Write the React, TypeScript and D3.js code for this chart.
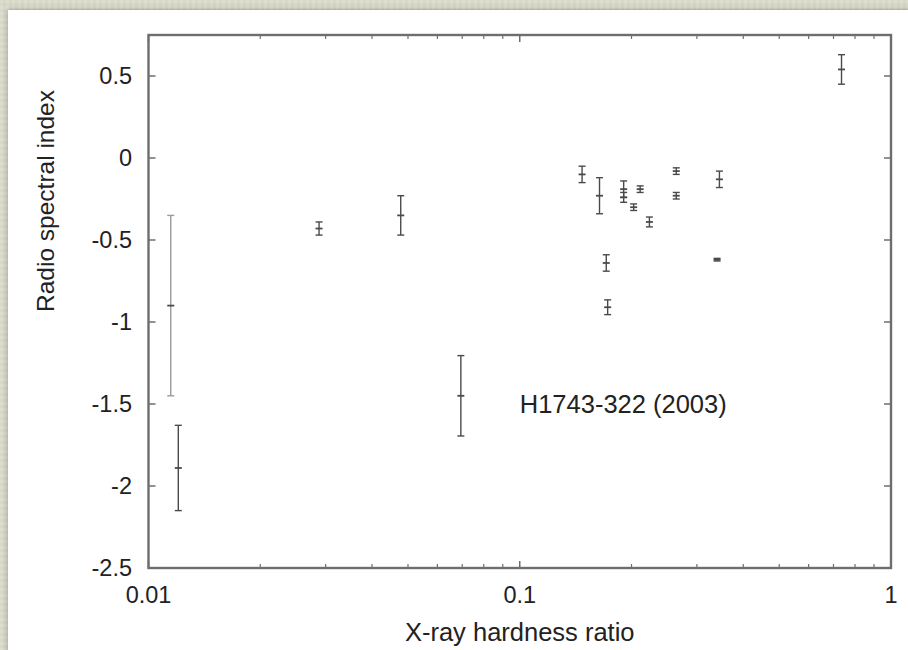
import React from "react";
import * as d3 from "d3";

// X-ray hardness ratio (x), radio spectral index (y) and its symmetric error
const hardness = [0.01148, 0.01203, 0.0288, 0.0478, 0.0694, 0.1472, 0.164, 0.1905, 0.1905, 0.2027, 0.211, 0.2235, 0.264, 0.264, 0.171, 0.1725, 0.345, 0.34, 0.7357];
const spectralIndex = [-0.9, -1.89, -0.43, -0.35, -1.45, -0.1, -0.23, -0.19, -0.24, -0.3, -0.19, -0.39, -0.08, -0.23, -0.64, -0.91, -0.13, -0.62, 0.54];
const indexError = [0.55, 0.26, 0.04, 0.12, 0.245, 0.05, 0.11, 0.05, 0.03, 0.02, 0.02, 0.03, 0.02, 0.02, 0.05, 0.045, 0.05, 0.008, 0.09];

const xMajorTicks = [0.01, 0.1, 1];
const xTickLabels = ["0.01", "0.1", "1"];
const yTicks = [0.5, 0, -0.5, -1, -1.5, -2, -2.5];
const yTickLabels = ["0.5", "0", "-0.5", "-1", "-1.5", "-2", "-2.5"];

const W = 908;
const H = 650;
const left = 148.5;
const right = 891;
const top = 35;
const bottom = 568;

export default function App() {
  const x = d3.scaleLog().domain([0.01, 1]).range([left, right]);
  const y = d3.scaleLinear().domain([-2.5, 0.75]).range([bottom, top]);
  const minor: number[] = [];
  [0.01, 0.1].forEach((d) => {
    for (let k = 2; k <= 9; k++) minor.push(d * k);
  });
  const font = "'Liberation Sans', Arial, Helvetica, sans-serif";
  const frame = "#6e6e6e";
  const mark = "#4a4a4a";
  const cap = 3.5;
  return (
    <svg width={W} height={H} style={{ position: "absolute", left: 0, top: 0 }} fontFamily={font}>
      <defs>
        <filter id="sh" x="-5%" y="-5%" width="110%" height="110%">
          <feDropShadow dx="0" dy="0" stdDeviation="2.5" floodColor="#000" floodOpacity="0.35" />
        </filter>
        <pattern id="tex" width="6" height="6" patternUnits="userSpaceOnUse">
          <rect width="6" height="6" fill="#d9d9ca" />
          <rect x="0" y="0" width="3" height="3" fill="#dedecf" />
          <rect x="3" y="3" width="3" height="3" fill="#d3d3c3" />
        </pattern>
      </defs>
      <rect width={W} height={H} fill="url(#tex)" />
      <rect x={8} y={10} width={W + 20} height={H + 20} fill="#fff" filter="url(#sh)" />

      {/* error bars */}
      {hardness.map((hx, i) => {
        const cx = x(hx);
        const y0 = y(spectralIndex[i] + indexError[i]);
        const y1 = y(spectralIndex[i] - indexError[i]);
        const cy = y(spectralIndex[i]);
        return (
          <g key={i} stroke={i === 0 ? "#9a9a9a" : mark} strokeWidth={1.4} fill="none">
            <line x1={cx} x2={cx} y1={y0} y2={y1} />
            <line x1={cx - cap} x2={cx + cap} y1={y0} y2={y0} />
            <line x1={cx - cap} x2={cx + cap} y1={y1} y2={y1} />
            <line x1={cx - 3.5} x2={cx + 3.5} y1={cy} y2={cy} stroke={mark} strokeWidth={1.8} />
          </g>
        );
      })}

      {/* frame */}
      <rect x={left} y={top} width={right - left} height={bottom - top} fill="none" stroke={frame} strokeWidth={2.4} />

      {/* y ticks */}
      {yTicks.map((v, i) => (
        <g key={"y" + i}>
          <line x1={left} x2={left + 7} y1={y(v)} y2={y(v)} stroke={frame} strokeWidth={1.5} />
          <line x1={right} x2={right - 7} y1={y(v)} y2={y(v)} stroke={frame} strokeWidth={1.5} />
          <text x={132} y={y(v) + 8} textAnchor="end" fontSize={23.5} fill="#222">
            {yTickLabels[i]}
          </text>
        </g>
      ))}

      {/* x ticks */}
      {xMajorTicks.map((v, i) => (
        <g key={"x" + i}>
          <line x1={x(v)} x2={x(v)} y1={bottom} y2={bottom - 7} stroke={frame} strokeWidth={1.5} />
          <line x1={x(v)} x2={x(v)} y1={top} y2={top + 7} stroke={frame} strokeWidth={1.5} />
          <text x={x(v)} y={603} textAnchor="middle" fontSize={23.5} fill="#222">
            {xTickLabels[i]}
          </text>
        </g>
      ))}
      {minor.map((v, i) => (
        <g key={"m" + i}>
          <line x1={x(v)} x2={x(v)} y1={bottom} y2={bottom - 4} stroke={frame} strokeWidth={1.2} />
          <line x1={x(v)} x2={x(v)} y1={top} y2={top + 4} stroke={frame} strokeWidth={1.2} />
        </g>
      ))}

      <text x={x(0.1)} y={413} fontSize={25.5} fill="#222">
        H1743-322 (2003)
      </text>
      <text x={(left + right) / 2} y={641} textAnchor="middle" fontSize={25.5} fill="#222">
        X-ray hardness ratio
      </text>
      <text transform="translate(54,201) rotate(-90)" textAnchor="middle" fontSize={24.5} fill="#222">
        Radio spectral index
      </text>
    </svg>
  );
}
